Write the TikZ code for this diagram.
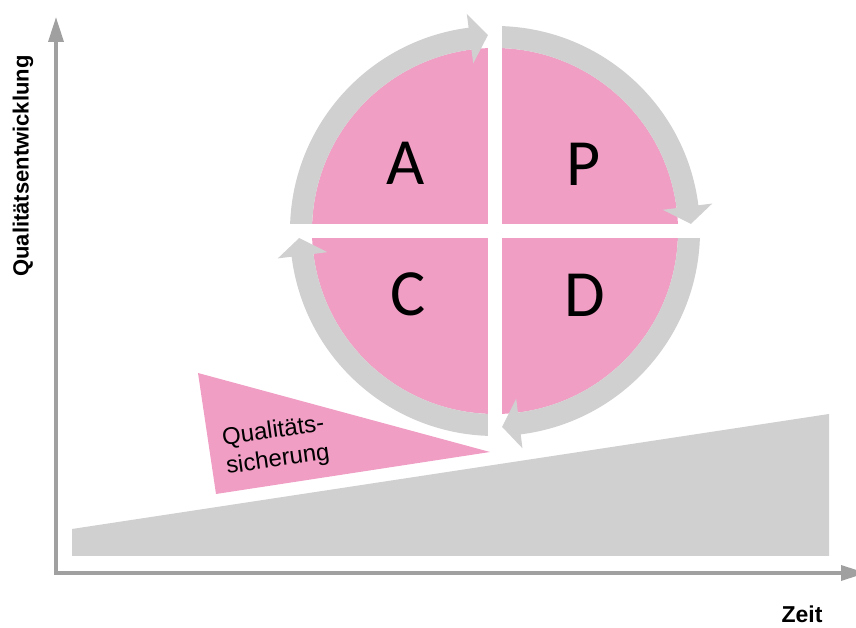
\documentclass[tikz,border=0pt]{standalone}
\usepackage{fontspec}
\setmainfont{Liberation Sans}
\newfontfamily\letterfont{Carlito}
\usetikzlibrary{arrows.meta}

\definecolor{pdcapink}{HTML}{F09EC4}
\definecolor{ringgrey}{HTML}{D0D0D0}
\definecolor{axisgrey}{HTML}{A0A0A0}

% curved ring arrow: start angle, arrowhead base angle, tip angle
\newcommand\pdcaarrow[3]{%
  \fill[ringgrey] (#1:205) arc[start angle=#1, end angle=#2, radius=205]
    -- (#2:219) -- (#3:196) -- (#2:169) -- (#2:183)
    arc[start angle=#2, end angle=#1, radius=183] -- cycle;}

\begin{document}
\begin{tikzpicture}[x=1pt,y=1pt,
  axis/.style={draw=axisgrey, line width=3.5pt, line join=miter,
    {Triangle[length=25pt,width=15pt]}-{Triangle[length=25pt,width=15pt]}},
  letter/.style={font=\letterfont\fontsize{66}{66}\selectfont, inner sep=0pt},
  axislabel/.style={font=\bfseries\fontsize{22}{22}\selectfont, inner sep=0pt},
  qslabel/.style={font=\fontsize{24}{29}\selectfont, align=left, inner sep=0pt}]
\useasboundingbox (0,0) rectangle (856,628);
\clip (0,0) rectangle (856,628);

% rising ground
\fill[ringgrey] (72,72) -- (72,99) -- (829,214) -- (829,72) -- cycle;

% wedge under the wheel
\fill[pdcapink] (198,255) -- (216,134) -- (490,176) -- cycle;
\node[qslabel, rotate=8] (qs) at (276,182) {Qualitäts-\\sicherung};

% axes
\draw[axis] (56,611) -- (56,55) -- (866,55);
\node[axislabel, rotate=90] (ylab) at (23,462) {Qualitätsentwicklung};
\node[axislabel, font=\bfseries\fontsize{23}{23}\selectfont] (xlab) at (802,14) {Zeit};

% PDCA wheel
\begin{scope}[shift={(495,397)}]
  \fill[pdcapink] (0,0) circle[radius=183];
  \pdcaarrow{180}{97.4}{92.07}
  \pdcaarrow{90}{7.2}{2.07}
  \pdcaarrow{0}{-82.8}{-87.93}
  \pdcaarrow{-90}{-172.8}{-177.93}
  \fill[white] (-7,-207) rectangle (7,207);
  \fill[white] (-207,-7) rectangle (207,7);
\end{scope}

\node[letter] (A) at (406,465) {A};
\node[letter] (P) at (584,464) {P};
\node[letter] (C) at (408,334) {C};
\node[letter] (D) at (585,333) {D};
\end{tikzpicture}
\end{document}
